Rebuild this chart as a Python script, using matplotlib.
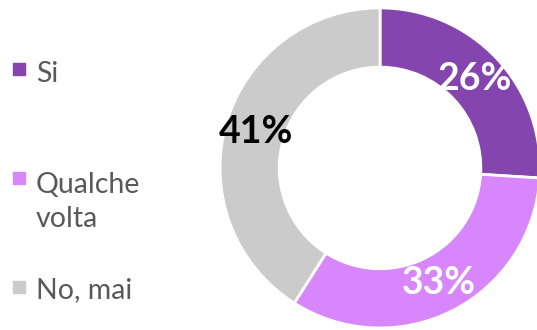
import matplotlib.pyplot as plt
from matplotlib.patches import Rectangle

labels = ['Si', 'Qualche\nvolta', 'No, mai']
values = [26, 33, 41]
colors = ['#8446ae', '#d886fc', '#cbcbcb']
pct_colors = ['white', 'white', 'black']

plt.rcParams['font.family'] = ['Lato', 'DejaVu Sans']

fig = plt.figure(figsize=(5.37, 3.30), dpi=100)

# donut, centred right, partly cut by the figure edge
ax = fig.add_axes([0.4097, 0.00606, 0.596, 0.970])
wedges, texts, autotexts = ax.pie(values, colors=colors, startangle=90, counterclock=False,
                                  radius=1.0, autopct='%d%%', pctdistance=0.81,
                                  wedgeprops=dict(width=0.37, edgecolor='white', linewidth=2))
for t, c in zip(autotexts, pct_colors):
    t.set_color(c)
    t.set_fontsize(27)
    t.set_fontweight('bold')
ax.set_xlim(-1, 1)
ax.set_ylim(-1, 1)
ax.set_aspect('equal')

# legend on the left: square marker row and text baseline (pixels from top)
mark_y = [69, 178, 287]
base_y = [82, 227, 298]
for lab, col, my, by in zip(labels, colors, mark_y, base_y):
    fig.patches.append(Rectangle((13 / 537, 1 - (my + 6) / 330), 12 / 537, 12 / 330,
                                 transform=fig.transFigure, color=col))
    fig.text(36 / 537, 1 - by / 330, lab, fontsize=20.5, color='#595959',
             va='baseline', ha='left', linespacing=1.4)

fig.savefig('out.png', dpi=100)
